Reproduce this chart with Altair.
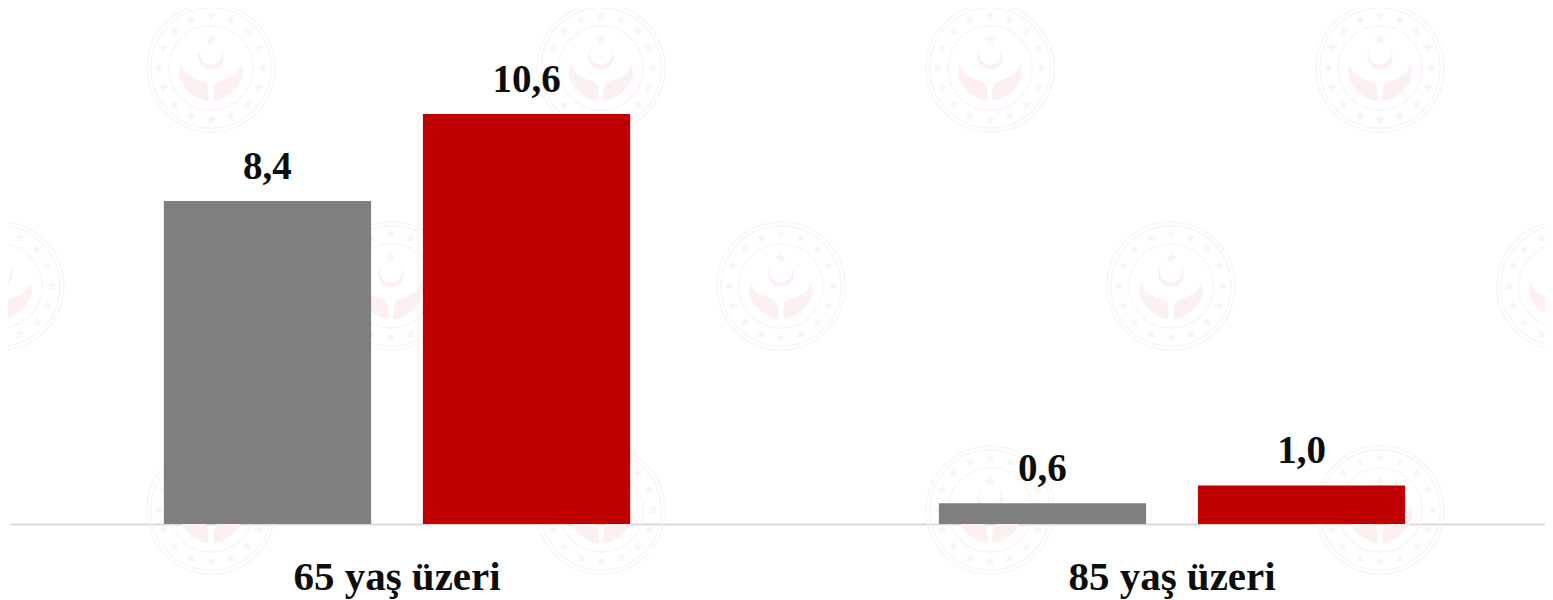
import math
import altair as alt
import pandas as pd

categories = ["65 yaş üzeri", "85 yaş üzeri"]
series = ["a", "b"]
values_a = [8.37, 0.54]
values_b = [10.62, 1.0]
labels_a = ["8,4", "0,6"]
labels_b = ["10,6", "1,0"]
colors = ["#7f7f7f", "#c00000"]

# faint background emblem centres, in page pixels
mark_x = [211, 601, 990, 1380, 0, 391, 781, 1171, 1561, 211, 601, 990, 1380]
mark_y = [68, 68, 68, 68, 286, 286, 286, 286, 286, 510, 510, 510, 510]

rows = []
for i, c in enumerate(categories):
    rows.append({"cat": c, "ser": "a", "val": values_a[i], "lab": labels_a[i]})
    rows.append({"cat": c, "ser": "b", "val": values_b[i], "lab": labels_b[i]})
df = pd.DataFrame(rows)
wm = pd.DataFrame({"px": mark_x, "py": mark_y})


def circle(r):
    return f"M{-r},0A{r},{r} 0 1,0 {r},0A{r},{r} 0 1,0 {-r},0Z"


def star(cx, cy, r):
    pts = []
    for k in range(10):
        rr = r if k % 2 == 0 else r * 0.42
        a = -math.pi / 2 + k * math.pi / 5
        pts.append(f"{cx + rr * math.cos(a):.3f},{cy + rr * math.sin(a):.3f}")
    return "M" + "L".join(pts) + "Z"


ring_path = circle(1.0) + circle(0.94) + circle(0.66)
stars_path = "".join(
    star(0.81 * math.sin(k * math.pi / 8), -0.81 * math.cos(k * math.pi / 8), 0.085)
    for k in range(16)
) + star(0, -0.44, 0.1)
crescent_path = "M-.13,-.33A.2,.2 0 1,0 .13,-.33A.17,.17 0 1,1 -.13,-.33Z"
hands_path = (
    "M-.48,-.08C-.44,.1 -.3,.15 -.1,.22C-.03,.27 -.03,.4 -.04,.52C-.2,.5 -.45,.35 -.5,.1Z"
    "M.48,-.08C.44,.1 .3,.15 .1,.22C.03,.27 .03,.4 .04,.52C.2,.5 .45,.35 .5,.1Z"
)

W, H = 1535, 516
FONT = "Liberation Serif"
wx = alt.X("px:Q", axis=None, scale=alt.Scale(domain=[10, 10 + W], range=[0, W], nice=False, zero=False))
wy = alt.Y("py:Q", axis=None, scale=alt.Scale(domain=[8, 524], range=[0, H], nice=False, zero=False))
base_wm = alt.Chart(wm).encode(x=wx, y=wy)
SIZE = 128 * 128
rings = base_wm.mark_point(shape=ring_path, size=SIZE, filled=False, stroke="#f9f1f1", strokeWidth=1.6, clip=False)
stars = base_wm.mark_point(shape=stars_path, size=SIZE, filled=True, fill="#faf4f4", opacity=1, clip=False)
cres = base_wm.mark_point(shape=crescent_path, size=SIZE, filled=True, fill="#fbefef", opacity=1, clip=False)
hands = base_wm.mark_point(shape=hands_path, size=SIZE, filled=True, fill="#fcf0f0", opacity=1, clip=False)

xs = alt.Scale(domain=categories, range=[-0.5, 1549.5], paddingInner=0, paddingOuter=0)
xo = alt.Scale(domain=series, paddingInner=0.2, paddingOuter=0.596)
ys = alt.Scale(domain=[0, H / 38.6], range=[H, 0], nice=False)

bars = alt.Chart(df).mark_bar(stroke=None).encode(
    x=alt.X("cat:N", scale=xs, sort=categories, title=None, axis=alt.Axis(
        labelAngle=0, labelFont=FONT, labelFontWeight="bold", labelFontSize=41,
        labelColor="#0d0d0d", ticks=False, grid=False, labelPadding=53, labelLimit=600,
        domainColor="#d9d9d9", domainWidth=2, labelBaseline="middle")),
    xOffset=alt.XOffset("ser:N", scale=xo, sort=series),
    y=alt.Y("val:Q", scale=ys, axis=None),
    color=alt.Color("ser:N", scale=alt.Scale(domain=series, range=colors), legend=None),
)
text = alt.Chart(df).mark_text(font=FONT, fontWeight="bold", fontSize=39, color="#0d0d0d",
                               baseline="alphabetic", dy=-22).encode(
    x=alt.X("cat:N", scale=xs, sort=categories, axis=None),
    xOffset=alt.XOffset("ser:N", scale=xo, sort=series),
    y=alt.Y("val:Q", scale=ys, axis=None),
    text="lab:N",
)

chart = alt.layer(rings, stars, cres, hands, bars, text).resolve_scale(
    x="independent", y="independent"
).properties(
    width=W, height=H,
    autosize=alt.AutoSizeParams(type="none"),
    padding={"left": 2, "top": 0, "right": 0, "bottom": 76},
    background="white",
).configure_view(stroke=None)

chart.save("out.html", embed_options={"renderer": "svg", "actions": False})
